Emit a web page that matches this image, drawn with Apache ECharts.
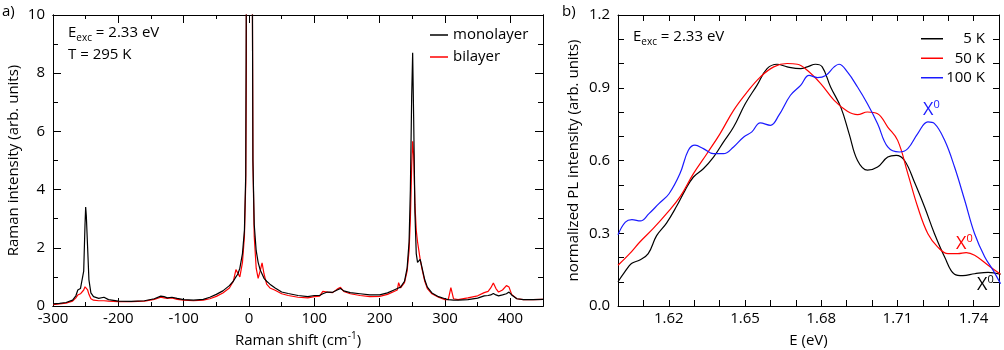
<!DOCTYPE html>
<html>
<head>
<meta charset="utf-8">
<script src="https://cdn.jsdelivr.net/npm/echarts@6/dist/echarts.min.js"></script>
<style>
  html, body { margin: 0; padding: 0; background: #fff; }
  #chart { width: 1004px; height: 350px; }
</style>
</head>
<body>
<div id="chart"></div>
<script>
var FONT = '"Open Sans", "Noto Sans", sans-serif';

// a) Raman spectra, shared shift axis
var ramanShift = [-300, -290, -280, -270, -265, -262, -258, -255, -253, -251, -250, -249, -247, -245, -242, -238, -230, -222, -215, -200,
    -180, -160, -145, -135, -130, -125, -118, -110, -100, -85, -70, -60, -50, -40, -30, -24, -20, -17, -14, -10,
    -7, -5, -4, -3.9, 1, 4.9, 5, 6, 8, 11, 14, 17, 20, 23, 27, 32, 40, 50, 60, 75,
    90, 100, 108, 113, 116, 120, 128, 135, 140, 145, 155, 170, 185, 200, 212, 222, 227, 229, 232, 238,
    242, 245, 247, 249, 250.5, 252, 254, 256, 258, 260, 262, 265, 269, 273, 280, 290, 300, 305, 309, 313,
    320, 335, 350, 360, 366, 370, 374, 378, 382, 388, 394, 398, 402, 410, 420, 435, 450];
var monolayer = [0.07, 0.09, 0.12, 0.2, 0.35, 0.55, 0.6, 0.62, 1.2, 2.8, 3.4, 3.1, 2.0, 0.9, 0.45, 0.32, 0.26, 0.3, 0.22, 0.17,
    0.16, 0.18, 0.25, 0.34, 0.32, 0.28, 0.3, 0.26, 0.22, 0.2, 0.23, 0.3, 0.4, 0.52, 0.7, 0.85, 1.0, 1.1, 1.3, 1.8,
    2.6, 4.5, 12, 30, 60, 30, 12, 5, 2.8, 1.9, 1.5, 1.25, 1.1, 0.95, 0.85, 0.75, 0.62, 0.48, 0.43, 0.36,
    0.32, 0.36, 0.36, 0.42, 0.45, 0.48, 0.47, 0.55, 0.6, 0.52, 0.46, 0.42, 0.38, 0.38, 0.45, 0.55, 0.6, 0.62, 0.65, 0.85,
    1.3, 2.2, 4, 7.2, 8.7, 6.5, 3.2, 1.8, 1.5, 1.55, 1.6, 1.3, 0.9, 0.65, 0.45, 0.32, 0.25, 0.22, 0.21, 0.2,
    0.2, 0.22, 0.27, 0.35, 0.36, 0.38, 0.43, 0.38, 0.35, 0.38, 0.42, 0.48, 0.38, 0.25, 0.22, 0.22, 0.23];
var bilayer = [0.05, 0.07, 0.1, 0.17, 0.28, 0.38, 0.42, 0.45, 0.55, 0.66, 0.68, 0.66, 0.55, 0.4, 0.25, 0.2, 0.18, 0.18, 0.17, 0.15,
    0.15, 0.17, 0.23, 0.3, 0.28, 0.26, 0.28, 0.23, 0.2, 0.18, 0.2, 0.25, 0.33, 0.45, 0.62, 0.85, 1.25, 1.2, 1.0, 1.5,
    2.4, 4.2, 8.4, 30, 60, 30, 12, 5, 2.4, 1.3, 0.95, 1.2, 1.48, 1.1, 0.75, 0.62, 0.54, 0.42, 0.36, 0.3,
    0.28, 0.32, 0.34, 0.5, 0.52, 0.48, 0.46, 0.58, 0.64, 0.5, 0.42, 0.36, 0.32, 0.33, 0.4, 0.5, 0.55, 0.8, 0.62, 0.8,
    1.2, 1.9, 3, 4.8, 5.66, 5.2, 3.5, 2.6, 2.2, 1.9, 1.6, 1.25, 0.85, 0.6, 0.42, 0.3, 0.22, 0.22, 0.63, 0.25,
    0.22, 0.28, 0.35, 0.46, 0.5, 0.62, 0.79, 0.6, 0.48, 0.55, 0.7, 0.65, 0.4, 0.25, 0.22, 0.22, 0.23];

// b) normalized PL
var energy5K = [1.600, 1.6026, 1.6053, 1.6086, 1.6119, 1.6152, 1.6191, 1.623, 1.6264, 1.6297, 1.6336, 1.6376, 1.6415, 1.6455,
    1.6501, 1.6547, 1.6587, 1.6626, 1.6666, 1.6719, 1.6745, 1.6778, 1.6804, 1.6837, 1.6877, 1.691, 1.6943, 1.6982,
    1.7022, 1.7062, 1.7095, 1.7128, 1.7167, 1.7207, 1.7246, 1.7286, 1.7325, 1.7358, 1.7404, 1.7457, 1.7506];
var pl5K = [0.10, 0.14, 0.175, 0.19, 0.216, 0.29, 0.342, 0.41, 0.477, 0.532, 0.566, 0.614, 0.676, 0.738,
    0.834, 0.91, 0.979, 0.997, 0.986, 0.979, 0.986, 0.997, 0.986, 0.903, 0.82, 0.71, 0.60, 0.56,
    0.573, 0.614, 0.621, 0.60, 0.511, 0.408, 0.298, 0.202, 0.131, 0.125, 0.133, 0.139, 0.131];
var energy50K = [1.600, 1.6046, 1.6086, 1.6138, 1.6191, 1.6244, 1.6297, 1.635, 1.6402, 1.6455, 1.6508, 1.656, 1.6613, 1.6666,
    1.6706, 1.6745, 1.6798, 1.6851, 1.6903, 1.6943, 1.6982, 1.7022, 1.7062, 1.7101, 1.7141, 1.718, 1.722, 1.7259,
    1.7299, 1.7338, 1.7371, 1.7404, 1.7457, 1.7506];
var pl50K = [0.168, 0.216, 0.264, 0.319, 0.381, 0.45, 0.546, 0.628, 0.711, 0.807, 0.882, 0.944, 0.986, 1.0,
    0.997, 0.972, 0.917, 0.848, 0.803, 0.789, 0.80, 0.793, 0.738, 0.683, 0.546, 0.408, 0.298, 0.243,
    0.216, 0.216, 0.22, 0.209, 0.168, 0.131];
var energy100K = [1.600, 1.6029, 1.6055, 1.6088, 1.6122, 1.6161, 1.6201, 1.6244, 1.6277, 1.6303, 1.6336, 1.6376, 1.6415, 1.6455,
    1.6495, 1.6527, 1.656, 1.66, 1.6633, 1.6679, 1.6719, 1.6752, 1.6785, 1.6818, 1.6851, 1.687, 1.6903, 1.6943,
    1.6982, 1.7022, 1.7062, 1.7108, 1.7141, 1.718, 1.722, 1.7246, 1.7286, 1.7325, 1.7365, 1.7404, 1.7444, 1.7477, 1.7506];
var pl100K = [0.294, 0.346, 0.356, 0.351, 0.381, 0.422, 0.463, 0.546, 0.642, 0.663, 0.649, 0.628, 0.628, 0.656,
    0.697, 0.718, 0.755, 0.745, 0.786, 0.869, 0.91, 0.951, 0.942, 0.951, 0.986, 0.997, 0.965, 0.903,
    0.834, 0.752, 0.656, 0.635, 0.649, 0.711, 0.759, 0.752, 0.683, 0.573, 0.436, 0.298, 0.202, 0.147, 0.092];

var plLabels = ['1.62', '1.65', '1.68', '1.71', '1.74'];

function pairs(xs, ys) {
    return xs.map(function (x, i) { return [x, ys[i]]; });
}

// one framed axis (ticks inside, no grid lines)
function frameAxis(grid, pos, min, max, step, tickLen, extra) {
    var ax = {
        type: 'value', gridIndex: grid, position: pos,
        min: min, max: max, interval: step,
        axisLine: { show: true, onZero: false, lineStyle: { color: '#000', width: 1 } },
        axisTick: { show: true, inside: true, length: tickLen, lineStyle: { color: '#000', width: 1 } },
        axisLabel: { show: false },
        splitLine: { show: false }
    };
    return Object.assign(ax, extra || {});
}

var labelStyle = { show: true, color: '#000', fontSize: 15, fontFamily: FONT };
var nameStyle = {
    color: '#000', fontSize: 15, fontFamily: FONT, lineHeight: 20,
    rich: { sup: { fontSize: 10, lineHeight: 10, verticalAlign: 'top', fontFamily: FONT, color: '#000' } }
};

var xAxes = [
    // a)
    frameAxis(0, 'bottom', -300, 450, 100, 8, {
        axisLabel: Object.assign({}, labelStyle, { margin: 5, showMaxLabel: false }),
        name: 'Raman shift (cm{sup|-1})', nameLocation: 'middle', nameGap: 24, nameTextStyle: nameStyle
    }),
    frameAxis(0, 'bottom', -300, 450, 50, 4),
    frameAxis(0, 'top', -300, 450, 100, 8),
    frameAxis(0, 'top', -300, 450, 50, 4),
    // b)
    frameAxis(1, 'bottom', 1.6, 1.75, 0.01, 6, {
        axisLabel: Object.assign({}, labelStyle, {
            margin: 5,
            formatter: function (v) {
                var s = v.toFixed(2);
                return plLabels.indexOf(s) >= 0 ? s : '';
            }
        }),
        name: 'E (eV)', nameLocation: 'middle', nameGap: 24, nameTextStyle: nameStyle
    }),
    frameAxis(1, 'top', 1.6, 1.75, 0.01, 6)
];

var yAxes = [
    frameAxis(0, 'left', 0, 10, 2, 8, {
        axisLabel: Object.assign({}, labelStyle, { margin: 8 }),
        name: 'Raman intensity (arb. units)', nameLocation: 'middle', nameGap: 29, nameTextStyle: nameStyle
    }),
    frameAxis(0, 'left', 0, 10, 1, 5),
    frameAxis(0, 'right', 0, 10, 2, 8),
    frameAxis(0, 'right', 0, 10, 1, 5),
    frameAxis(1, 'left', 0, 1.2, 0.1, 6, {
        axisLabel: Object.assign({}, labelStyle, {
            margin: 8,
            formatter: function (v) {
                return Math.round(v * 10) % 3 === 0 ? v.toFixed(1) : '';
            }
        }),
        name: 'normalized PL intensity (arb. units)', nameLocation: 'middle', nameGap: 34, nameTextStyle: nameStyle
    }),
    frameAxis(1, 'right', 0, 1.2, 0.1, 6)
];

var rich = {
    t: { fontSize: 15, fontFamily: FONT, lineHeight: 20, fill: '#000' },
    sub: { fontSize: 10, fontFamily: FONT, lineHeight: 12, verticalAlign: 'bottom', fill: '#000' }
};

function xLabel(x, y, color) {
    return {
        type: 'text', x: x, y: y, z: 100,
        style: {
            text: '{x|X}{s|0}', verticalAlign: 'middle',
            rich: {
                x: { fontSize: 18, fontFamily: FONT, lineHeight: 22, fill: color },
                s: { fontSize: 11, fontFamily: FONT, lineHeight: 11, verticalAlign: 'top', fill: color }
            }
        }
    };
}

var chart = echarts.init(document.getElementById('chart'));
chart.setOption({
    animation: false,
    backgroundColor: '#fff',
    grid: [
        { left: 53, right: 461, top: 15, bottom: 44, outerBoundsMode: 'none' },
        { left: 618, right: 5, top: 15, bottom: 44, outerBoundsMode: 'none' }
    ],
    xAxis: xAxes,
    yAxis: yAxes,
    legend: [
        {
            data: ['monolayer', 'bilayer'], orient: 'vertical', left: 430, top: 24,
            padding: 0, itemGap: 0, itemWidth: 18, itemHeight: 1.5, icon: 'rect',
            textStyle: { fontSize: 15, fontFamily: FONT, color: '#000', lineHeight: 22 }
        },
        {
            data: ['5 K', '50 K', '100 K'], orient: 'vertical', left: 921, top: 29,
            padding: 0, itemGap: 0, itemWidth: 22, itemHeight: 1.5, icon: 'rect',
            formatter: function (name) { return '{r|' + name + '}'; },
            textStyle: {
                fontSize: 15, fontFamily: FONT, color: '#000', lineHeight: 19.5,
                rich: { r: { width: 37, align: 'right', fontSize: 15, fontFamily: FONT, color: '#000', lineHeight: 19.5 } }
            }
        }
    ],
    graphic: [
        { type: 'text', x: 2, y: 12, style: { text: 'a)', font: '15px ' + FONT, fill: '#000', verticalAlign: 'middle' } },
        { type: 'text', x: 562, y: 12, style: { text: 'b)', font: '15px ' + FONT, fill: '#000', verticalAlign: 'middle' } },
        { type: 'text', x: 68, y: 33, style: { text: '{t|E}{sub|exc}{t| = 2.33 eV}', rich: rich, verticalAlign: 'middle' } },
        { type: 'text', x: 68, y: 55, style: { text: '{t|T = 295 K}', rich: rich, verticalAlign: 'middle' } },
        { type: 'text', x: 633, y: 37, style: { text: '{t|E}{sub|exc}{t| = 2.33 eV}', rich: rich, verticalAlign: 'middle' } },
        xLabel(923, 110, '#1a1aff'),
        xLabel(956, 244, '#ff0000'),
        xLabel(977, 285, '#000')
    ],
    series: [
        {
            name: 'bilayer', type: 'line', xAxisIndex: 0, yAxisIndex: 0,
            data: pairs(ramanShift, bilayer), symbol: 'none', clip: true,
            lineStyle: { color: '#ff0000', width: 1.2 }, itemStyle: { color: '#ff0000' }
        },
        {
            name: 'monolayer', type: 'line', xAxisIndex: 0, yAxisIndex: 0,
            data: pairs(ramanShift, monolayer), symbol: 'none', clip: true,
            lineStyle: { color: '#000', width: 1.2 }, itemStyle: { color: '#000' }
        },
        {
            name: '5 K', type: 'line', xAxisIndex: 4, yAxisIndex: 4,
            data: pairs(energy5K, pl5K), symbol: 'none', smooth: 0.4, clip: true,
            lineStyle: { color: '#000', width: 1.2 }, itemStyle: { color: '#000' }
        },
        {
            name: '50 K', type: 'line', xAxisIndex: 4, yAxisIndex: 4,
            data: pairs(energy50K, pl50K), symbol: 'none', smooth: 0.4, clip: true,
            lineStyle: { color: '#ff0000', width: 1.2 }, itemStyle: { color: '#ff0000' }
        },
        {
            name: '100 K', type: 'line', xAxisIndex: 4, yAxisIndex: 4,
            data: pairs(energy100K, pl100K), symbol: 'none', smooth: 0.4, clip: true,
            lineStyle: { color: '#1a1aff', width: 1.2 }, itemStyle: { color: '#1a1aff' }
        }
    ]
});
</script>
</body>
</html>
